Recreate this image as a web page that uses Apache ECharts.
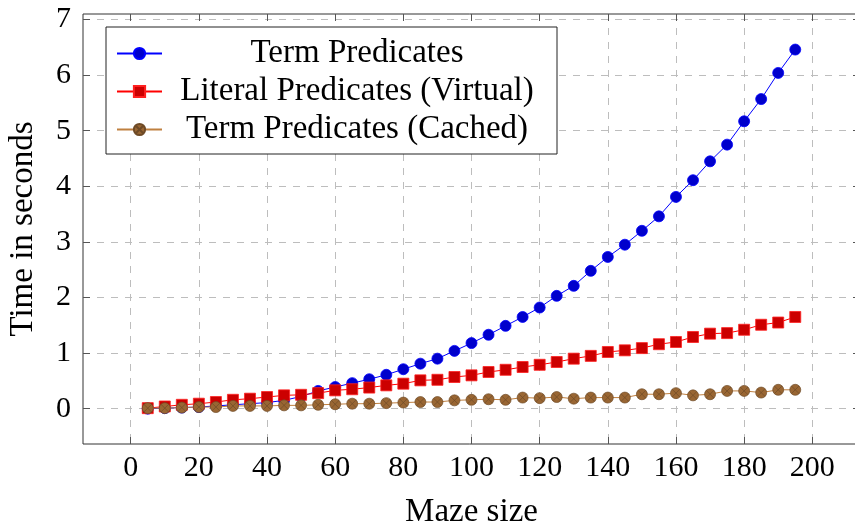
<!DOCTYPE html>
<html>
<head>
<meta charset="utf-8">
<script src="https://cdn.jsdelivr.net/npm/echarts@6/dist/echarts.min.js"></script>
<style>
  html, body { margin: 0; padding: 0; background: #fff; }
  #chart { width: 855px; height: 529px; }
</style>
</head>
<body>
<div id="chart"></div>
<script>
// Maze sizes (x) and run times in seconds for each solver variant
const mazeSizes = [5, 10, 15, 20, 25, 30, 35, 40, 45, 50, 55, 60, 65, 70, 75, 80, 85, 90, 95, 100,
  105, 110, 115, 120, 125, 130, 135, 140, 145, 150, 155, 160, 165, 170, 175, 180, 185, 190, 195];

const termPredicates = [0.00, 0.01, 0.02, 0.03, 0.05, 0.07, 0.09, 0.11, 0.15, 0.22, 0.32, 0.39, 0.46, 0.53, 0.61,
  0.71, 0.81, 0.90, 1.04, 1.18, 1.33, 1.49, 1.65, 1.82, 2.03, 2.21, 2.48, 2.73, 2.95, 3.20, 3.46, 3.81, 4.11,
  4.45, 4.75, 5.17, 5.57, 6.04, 6.46];

const literalPredicatesVirtual = [0.01, 0.04, 0.07, 0.09, 0.12, 0.16, 0.18, 0.21, 0.24, 0.25, 0.28, 0.33, 0.35,
  0.38, 0.42, 0.45, 0.51, 0.52, 0.57, 0.60, 0.66, 0.70, 0.75, 0.79, 0.84, 0.90, 0.95, 1.02, 1.05, 1.09, 1.16,
  1.20, 1.29, 1.35, 1.36, 1.42, 1.51, 1.55, 1.65];

const termPredicatesCached = [0.01, 0.01, 0.02, 0.03, 0.03, 0.05, 0.05, 0.05, 0.06, 0.06, 0.07, 0.08, 0.09,
  0.09, 0.10, 0.11, 0.12, 0.12, 0.15, 0.16, 0.17, 0.16, 0.20, 0.19, 0.21, 0.18, 0.20, 0.20, 0.20, 0.26, 0.26,
  0.28, 0.24, 0.26, 0.32, 0.32, 0.29, 0.34, 0.34];

const xTicks = [0, 20, 40, 60, 80, 100, 120, 140, 160, 180, 200];
const yTicks = [0, 1, 2, 3, 4, 5, 6, 7];

const seriesNames = ['Term Predicates', 'Literal Predicates (Virtual)', 'Term Predicates (Cached)'];

const FONT = '"Liberation Serif", "Times New Roman", serif';
const TEXT_SIZE = 33;   // legend entries and axis titles
const TICK_SIZE = 30;   // tick numbers

// circle with a cross through it
const OTIMES = 'path://M10,0A10,10 0 1,1 10,20A10,10 0 1,1 10,0Z' +
  'M2.93,2.93L17.07,17.07M17.07,2.93L2.93,17.07';

const pairs = ys => mazeSizes.map((x, i) => [x, ys[i]]);

const gridDash = { color: '#bdbdbd', width: 1, type: [7, 7] };
const tickStyle = { color: '#555', width: 1 };
const hiddenLine = { show: false, onZero: false };

const chart = echarts.init(document.getElementById('chart'), null, { renderer: 'canvas' });

chart.setOption({
  animation: false,
  backgroundColor: '#fff',
  grid: {
    left: 83, top: 14, width: 777, height: 430,
    outerBoundsMode: 'none', containLabel: false,
    show: true, borderColor: '#333', borderWidth: 1, backgroundColor: 'transparent'
  },
  xAxis: [{
    type: 'value', min: -14, max: 214, position: 'bottom',
    name: 'Maze size', nameLocation: 'middle', nameGap: 52,
    nameTextStyle: { fontFamily: FONT, fontSize: TEXT_SIZE, color: '#000' },
    axisLine: hiddenLine,
    axisTick: { show: true, inside: true, length: 7, lineStyle: tickStyle, customValues: xTicks },
    axisLabel: { fontFamily: FONT, fontSize: TICK_SIZE, color: '#000', margin: 9, customValues: xTicks },
    splitLine: { show: true, lineStyle: gridDash }
  }, {
    type: 'value', min: -14, max: 214, position: 'top',
    axisLine: hiddenLine,
    axisTick: { show: true, inside: true, length: 7, lineStyle: tickStyle, customValues: xTicks },
    axisLabel: { show: false },
    splitLine: { show: false }
  }],
  yAxis: [{
    type: 'value', min: -0.635, max: 7.1, position: 'left',
    name: 'Time in seconds', nameLocation: 'middle', nameGap: 43,
    nameTextStyle: { fontFamily: FONT, fontSize: TEXT_SIZE, color: '#000' },
    axisLine: hiddenLine,
    axisTick: { show: true, inside: true, length: 7, lineStyle: tickStyle, customValues: yTicks },
    axisLabel: { fontFamily: FONT, fontSize: TICK_SIZE, color: '#000', margin: 12, customValues: yTicks },
    splitLine: { show: true, lineStyle: gridDash }
  }, {
    type: 'value', min: -0.635, max: 7.1, position: 'right',
    axisLine: hiddenLine,
    axisTick: { show: true, inside: true, length: 7, lineStyle: tickStyle, customValues: yTicks },
    axisLabel: { show: false },
    splitLine: { show: false }
  }],
  legend: {
    orient: 'vertical',
    left: 106, top: 27,
    padding: [10, 10, 8, 10],
    itemGap: 5,
    itemWidth: 45, itemHeight: 14,
    backgroundColor: '#fff',
    borderColor: '#222', borderWidth: 1, borderRadius: 0,
    data: seriesNames,
    formatter: name => '{c|' + name + '}',
    textStyle: {
      fontFamily: FONT, fontSize: TEXT_SIZE, color: '#000', lineHeight: 30,
      rich: { c: { width: 380, align: 'center', fontFamily: FONT, fontSize: TEXT_SIZE, lineHeight: 30, color: '#000' } }
    }
  },
  series: [{
    name: seriesNames[0], type: 'line', data: pairs(termPredicates),
    symbol: 'circle', symbolSize: 11,
    lineStyle: { color: '#0000ff', width: 1 },
    itemStyle: { color: '#0000cc', borderColor: '#0000ff', borderWidth: 0.8 },
    z: 2
  }, {
    name: seriesNames[1], type: 'line', data: pairs(literalPredicatesVirtual),
    symbol: 'rect', symbolSize: 11,
    lineStyle: { color: '#ff0000', width: 1 },
    itemStyle: { color: '#cc0000', borderColor: '#ff2020', borderWidth: 0.8 },
    z: 3
  }, {
    name: seriesNames[2], type: 'line', data: pairs(termPredicatesCached),
    symbol: OTIMES, symbolSize: 11,
    lineStyle: { color: '#bf8040', width: 1 },
    itemStyle: { color: '#996633', borderColor: '#6e4a26', borderWidth: 0.7 },
    z: 4
  }]
});
</script>
</body>
</html>
